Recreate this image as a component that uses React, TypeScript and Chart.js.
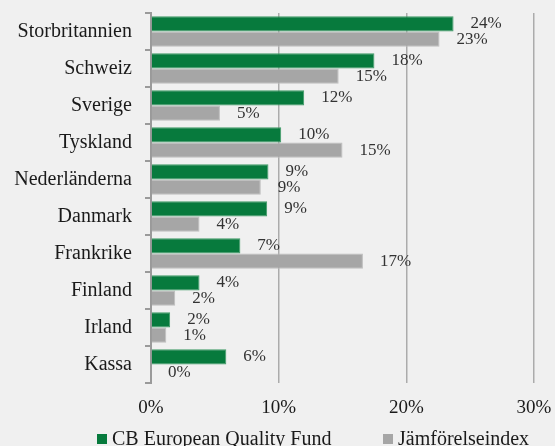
import React, { useEffect, useRef } from "react";
import { Chart, registerables } from "chart.js";

Chart.register(...registerables);

const categories = [
  "Storbritannien",
  "Schweiz",
  "Sverige",
  "Tyskland",
  "Nederländerna",
  "Danmark",
  "Frankrike",
  "Finland",
  "Irland",
  "Kassa",
];
const fundLabel = "CB European Quality Fund";
const indexLabel = "Jämförelseindex";
const fundValues = [23.7, 17.5, 12.0, 10.2, 9.2, 9.1, 7.0, 3.8, 1.5, 5.9];
const indexValues = [22.6, 14.7, 5.4, 15.0, 8.6, 3.8, 16.6, 1.9, 1.2, 0.0];
const xTicks = [0, 10, 20, 30];

const GREEN = "#077A3D";
const GREY = "#A6A6A6";
const FONT = "'Liberation Serif', 'Times New Roman', serif";

const dataLabelPlugin = {
  id: "dataLabels",
  afterDatasetsDraw(chart: any) {
    const ctx = chart.ctx;
    ctx.save();
    ctx.font = `17px ${FONT}`;
    ctx.fillStyle = "#333333";
    ctx.textAlign = "left";
    ctx.textBaseline = "middle";
    chart.data.datasets.forEach((ds: any, di: number) => {
      const meta = chart.getDatasetMeta(di);
      meta.data.forEach((el: any, i: number) => {
        const v = ds.data[i];
        ctx.fillText(Math.round(v) + "%", el.x + 17, el.y);
      });
    });
    ctx.restore();
  },
};

const legendPlugin = {
  id: "customLegend",
  afterDraw(chart: any) {
    const ctx = chart.ctx;
    ctx.save();
    ctx.font = `20px ${FONT}`;
    ctx.textAlign = "left";
    ctx.textBaseline = "alphabetic";
    const items = [
      { x: 97, label: chart.data.datasets[0].label, color: chart.data.datasets[0].backgroundColor },
      { x: 383, label: chart.data.datasets[1].label, color: chart.data.datasets[1].backgroundColor },
    ];
    items.forEach((it) => {
      ctx.fillStyle = it.color;
      ctx.fillRect(it.x, 434, 10, 10);
      ctx.fillStyle = "#1a1a1a";
      ctx.fillText(it.label, it.x + 15, 445);
    });
    ctx.restore();
  },
};

export default function App() {
  const ref = useRef<HTMLCanvasElement | null>(null);
  useEffect(() => {
    if (!ref.current) return;
    const chart = new Chart(ref.current, {
      type: "bar",
      data: {
        labels: categories,
        datasets: [
          {
            label: fundLabel,
            data: fundValues,
            backgroundColor: GREEN,
            borderColor: "#3E9A66",
            borderWidth: 1,
            categoryPercentage: 0.82,
            barPercentage: 1.0,
          },
          {
            label: indexLabel,
            data: indexValues,
            backgroundColor: GREY,
            borderColor: "#BDBDBD",
            borderWidth: 1,
            categoryPercentage: 0.82,
            barPercentage: 1.0,
          },
        ],
      },
      options: {
        indexAxis: "y",
        responsive: false,
        animation: false,
        layout: { padding: { top: 13, right: 21, left: 0, bottom: 0 } },
        plugins: {
          legend: { display: false },
          tooltip: { enabled: false },
        },
        scales: {
          x: {
            min: 0,
            max: 30,
            afterBuildTicks(scale: any) {
              scale.ticks = xTicks.map((v) => ({ value: v }));
            },
            afterFit(scale: any) {
              scale.height = 63;
              scale.paddingLeft = 0;
              scale.paddingRight = 0;
            },
            ticks: {
              callback: (v: any) => v + "%",
              font: { family: FONT, size: 19 },
              color: "#1a1a1a",
              padding: 14,
            },
            grid: {
              color: "#ABABAB",
              lineWidth: 1.5,
              drawTicks: false,
            },
            border: { display: false },
          },
          y: {
            afterFit(scale: any) {
              scale.width = 151;
              scale.paddingTop = 0;
              scale.paddingBottom = 0;
            },
            ticks: {
              font: { family: FONT, size: 20 },
              color: "#1a1a1a",
              padding: 13,
            },
            grid: {
              drawOnChartArea: false,
              drawTicks: true,
              tickLength: 6,
              color: "#9A9A9A",
              lineWidth: 2,
              offset: true,
            },
            border: { display: true, color: "#9A9A9A", width: 2 },
          },
        },
      },
      plugins: [dataLabelPlugin, legendPlugin],
    });
    return () => chart.destroy();
  }, []);

  return (
    <div
      style={{
        position: "fixed",
        left: 0,
        top: 0,
        width: 555,
        height: 446,
        background: "#F0F0F0",
        overflow: "hidden",
      }}
    >
      <canvas ref={ref} width={555} height={446} style={{ display: "block" }} />
    </div>
  );
}
